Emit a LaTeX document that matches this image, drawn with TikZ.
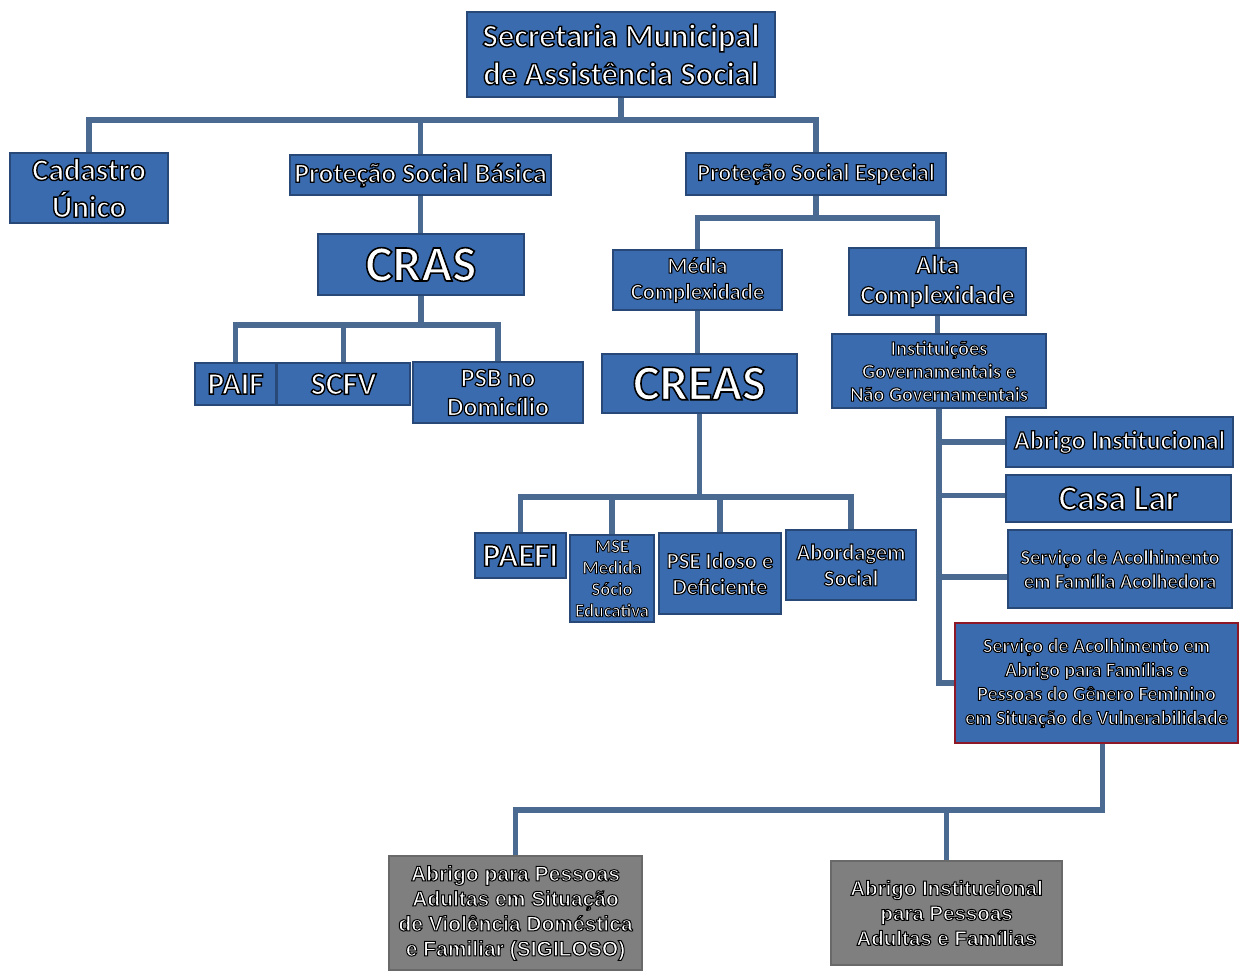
\documentclass[tikz,border=0pt]{standalone}
\usepackage{fontspec}
\setmainfont{Carlito}
\newfontfamily\arialf{Liberation Sans}
\usetikzlibrary{backgrounds}
\definecolor{boxblue}{RGB}{58,107,174}
\definecolor{bdr}{RGB}{40,72,120}
\definecolor{lnc}{RGB}{74,106,146}
\definecolor{redb}{RGB}{140,24,40}
\definecolor{grayf}{RGB}{127,127,127}
\definecolor{grayb}{RGB}{105,105,105}
% white text with a black outline: fill+stroke text render mode
\newcommand\ct[2][1.2]{\special{pdf:literal 2 Tr #1 w 0 G}#2\special{pdf:literal 0 Tr}}
\newcommand\fs[2]{\fontsize{#1}{#2}\selectfont}
\tikzset{
  bx/.style={draw=bdr, line width=1.5pt, fill=boxblue, text=white, align=center, inner sep=0pt},
  gbx/.style={draw=grayb, line width=1.2pt, fill=grayf, text=white, align=center, inner sep=0pt},
  ln/.style={draw=lnc, line width=5.5pt, line cap=rect, line join=miter},
}
\begin{document}
\begin{tikzpicture}[x=1pt,y=-1pt]
\useasboundingbox (0,0) rectangle (1241,972);
% level 0
\node[bx, font={\bfseries\fs{32.5}{38}}, minimum width=308pt, minimum height=85pt] (sec) at (621,54.5) {\ct[1.4]{Secretaria Municipal}\\\ct[1.4]{de Assistência Social}};
% level 1
\node[bx, font={\bfseries\fs{31}{37}}, minimum width=158pt, minimum height=70pt] (cad) at (89,188) {\ct[1.4]{Cadastro}\\\ct[1.4]{Único}};
\node[bx, font={\bfseries\fs{27.5}{28}}, minimum width=261pt, minimum height=40pt] (psb) at (420.5,175) {\ct[1.3]{Proteção Social Básica}};
\node[bx, font={\bfseries\fs{24}{26}}, minimum width=260pt, minimum height=42pt] (pse) at (816,174) {\ct{Proteção Social Especial}};
% basic
\node[bx, font={\bfseries\fs{51}{52}}, minimum width=206pt, minimum height=61pt] (cras) at (421,264.5) {\ct[1.6]{CRAS}};
\node[bx, font={\bfseries\fs{31}{30}}, minimum width=81pt, minimum height=42pt] (paif) at (235.5,384) {\ct[1.4]{PAIF}};
\node[bx, font={\bfseries\fs{32}{30}}, minimum width=133pt, minimum height=42pt] (scfv) at (343.5,384) {\ct[1.4]{SCFV}};
\node[bx, font={\bfseries\fs{26}{29}}, minimum width=170pt, minimum height=61pt] (psbd) at (498,392.5) {\ct{PSB no}\\\ct{Domicílio}};
% special
\node[bx, font={\bfseries\fs{22.5}{26}}, minimum width=169pt, minimum height=60pt] (med) at (697.5,280) {\ct[1.1]{Média}\\\ct[1.1]{Complexidade}};
\node[bx, font={\bfseries\fs{26}{30}}, minimum width=177pt, minimum height=67pt] (alta) at (937.5,281.5) {\ct{Alta}\\\ct{Complexidade}};
\node[bx, font={\bfseries\fs{50}{50}}, minimum width=195pt, minimum height=59pt] (creas) at (699.5,383.5) {\ct[1.6]{CREAS}};
\node[bx, font={\bfseries\fs{33}{32}}, minimum width=91pt, minimum height=45pt] (paefi) at (520.5,555.5) {\ct[1.4]{PAEFI}};
\node[bx, font={\bfseries\fs{18.5}{21.5}}, minimum width=84pt, minimum height=87pt] (mse) at (612,578.5) {\ct[0.9]{MSE}\\\ct[0.9]{Medida}\\\ct[0.9]{Sócio}\\\ct[0.9]{Educativa}};
\node[bx, font={\bfseries\fs{22.5}{26}}, minimum width=122pt, minimum height=81pt] (idoso) at (720,573.5) {\ct[1.1]{PSE Idoso e}\\\ct[1.1]{Deficiente}};
\node[bx, font={\bfseries\fs{22.5}{26}}, minimum width=130pt, minimum height=70pt] (abord) at (851,565) {\ct[1.1]{Abordagem}\\\ct[1.1]{Social}};
\node[bx, font={\bfseries\fs{20.3}{23}}, minimum width=214pt, minimum height=74pt] (inst) at (939,371) {\ct[1]{Instituições}\\\ct[1]{Governamentais e}\\\ct[1]{Não Governamentais}};
\node[bx, font={\bfseries\fs{26}{26}}, minimum width=227pt, minimum height=50pt] (abrI) at (1119.5,442) {\ct{Abrigo Institucional}};
\node[bx, font={\bfseries\fs{35}{34}}, minimum width=225pt, minimum height=47pt] (casa) at (1118.5,498.5) {\ct[1.5]{Casa Lar}};
\node[bx, font={\bfseries\fs{20.3}{24}}, minimum width=224pt, minimum height=78pt] (fam) at (1120,569) {\ct[1]{Serviço de Acolhimento}\\\ct[1]{em Família Acolhedora}};
\node[bx, draw=redb, line width=2.5pt, font={\bfseries\fs{20}{24}}, minimum width=283pt, minimum height=120pt] (red) at (1096.5,683) {\ct[1]{Serviço de Acolhimento em}\\\ct[1]{Abrigo para Famílias e}\\\ct[1]{Pessoas do Gênero Feminino}\\\ct[1]{em Situação de Vulnerabilidade}};
% gray
\node[gbx, font={\arialf\bfseries\fs{21}{25}}, minimum width=253pt, minimum height=114pt] (g1) at (515.5,913) {\ct[1]{Abrigo para Pessoas}\\\ct[1]{Adultas em Situação}\\\ct[1]{de Violência Doméstica}\\\ct[1]{e Familiar (SIGILOSO)}};
\node[gbx, font={\arialf\bfseries\fs{20.5}{25}}, minimum width=231pt, minimum height=104pt] (g2) at (946.5,913) {\ct[1]{Abrigo Institucional}\\\ct[1]{para Pessoas}\\\ct[1]{Adultas e Famílias}};
% connectors
\begin{pgfonlayer}{background}
\draw[ln] (sec.south) -- (sec.south |- 0,120);
\draw[ln] (cad.north) -- (cad.north |- 0,120) -- (pse.north |- 0,120) -- (pse.north);
\draw[ln] (psb.north) -- (psb.north |- 0,120);
\draw[ln] (psb.south) -- (psb.south |- cras.north);
\draw[ln] (cras.south) -- (cras.south |- 0,325);
\draw[ln] (paif.north) -- (paif.north |- 0,325) -- (psbd.north |- 0,325) -- (psbd.north);
\draw[ln] (scfv.north) -- (scfv.north |- 0,325);
\draw[ln] (pse.south) -- (pse.south |- 0,218);
\draw[ln] (med.north) -- (med.north |- 0,218) -- (alta.north |- 0,218) -- (alta.north);
\draw[ln] (med.south) -- (med.south |- creas.north);
\draw[ln] (creas.south) -- (creas.south |- 0,497);
\draw[ln] (paefi.north) -- (paefi.north |- 0,497) -- (abord.north |- 0,497) -- (abord.north);
\draw[ln] (mse.north) -- (mse.north |- 0,497);
\draw[ln] (idoso.north) -- (idoso.north |- 0,497);
\draw[ln] (alta.south) -- (alta.south |- inst.north);
\draw[ln] (inst.south) -- (inst.south |- red.west) -- (red.west);
\draw[ln] (abrI.west) -- (abrI.west -| inst.south);
\draw[ln] ([yshift=3pt]casa.west) -- ([yshift=3pt]casa.west -| inst.south);
\draw[ln] ([yshift=-8pt]fam.west) -- ([yshift=-8pt]fam.west -| inst.south);
\draw[ln] ([xshift=6pt]red.south) -- ([xshift=6pt]red.south |- 0,810) -- (g1.north |- 0,810) -- (g1.north);
\draw[ln] (g2.north) -- (g2.north |- 0,810);
\end{pgfonlayer}
\end{tikzpicture}
\end{document}
